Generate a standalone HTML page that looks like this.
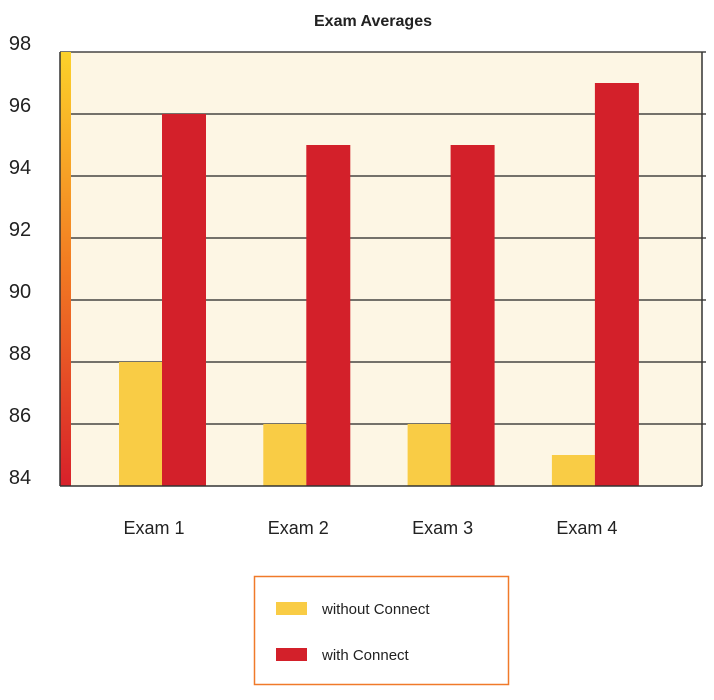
<!DOCTYPE html>
<html><head><meta charset="utf-8"><style>
body{margin:0;background:#fff;font-family:"Liberation Sans",sans-serif}
svg text{font-family:"Liberation Sans",sans-serif}
</style></head><body>
<svg width="714" height="695">
<defs><linearGradient id="g" x1="0" y1="0" x2="0" y2="1"><stop offset="0" stop-color="#fcd22a"/><stop offset="0.5" stop-color="#f27a22"/><stop offset="1" stop-color="#d8202a"/></linearGradient></defs>
<text x="373" y="26" text-anchor="middle" font-size="16" font-weight="bold" fill="#222">Exam Averages</text>
<rect x="60" y="52" width="642" height="434" fill="#fdf6e4"/>
<g id="grid"></g>
<rect x="60" y="52" width="11" height="434" fill="url(#g)"/>
<g id="bars"></g>
<line x1="60" y1="52" x2="60" y2="486" stroke="#333" stroke-width="1.5"/>
<line x1="702" y1="52" x2="702" y2="486" stroke="#333" stroke-width="1.5"/>
<line x1="60" y1="486" x2="702" y2="486" stroke="#333" stroke-width="1.5"/>
<g id="xl"></g>
<rect x="254.5" y="576.5" width="254" height="108" fill="#fff" stroke="#f07a2a" stroke-width="1.5"/>
<rect x="276" y="602" width="31" height="13" fill="#f9cc45"/>
<text x="322" y="614" font-size="15" fill="#222">without Connect</text>
<rect x="276" y="648" width="31" height="13" fill="#d3202a"/>
<text x="322" y="660" font-size="15" fill="#222">with Connect</text>
</svg>
<script>
const categories=["Exam 1","Exam 2","Exam 3","Exam 4"];
const withoutConnect=[88,86,86,85];
const withConnect=[96,95,95,97];
const yTicks=[84,86,88,90,92,94,96,98];
const NS="http://www.w3.org/2000/svg";
const yMin=84,yMax=98,plotTop=52,plotBot=486;
function yScale(v){return plotBot-(v-yMin)/(yMax-yMin)*(plotBot-plotTop);}
function xc(i){return 162+144.3*i;}
function mk(t,a,p){const e=document.createElementNS(NS,t);for(const k in a)e.setAttribute(k,a[k]);p.appendChild(e);return e;}
const grid=document.getElementById('grid'),svgEl=document.querySelector('svg');
yTicks.forEach(t=>{
 if(t>yMin){const l=mk('line',{x1:60,x2:706,y1:yScale(t),y2:yScale(t),stroke:'#222','stroke-width':1.3},grid);
 
 }
 const tx=mk('text',{x:20,y:yScale(t)-2,'text-anchor':'middle','font-size':20,fill:'#222'},svgEl);
 tx.textContent=t;
 
 
});
const bars=document.getElementById('bars'),xl=document.getElementById('xl');
categories.forEach((c,i)=>{
 const a=mk('rect',{x:xc(i)-43,y:yScale(withoutConnect[i]),width:43,height:plotBot-yScale(withoutConnect[i]),fill:'#f9cc45'},bars);
 
 
 const b=mk('rect',{x:xc(i),y:yScale(withConnect[i]),width:44,height:plotBot-yScale(withConnect[i]),fill:'#d3202a'},bars);
 
 
 const t=mk('text',{x:xc(i)-8,y:534,'text-anchor':'middle','font-size':18,fill:'#222'},xl);
 t.textContent=c;
 
 
});
</script>
</body></html>
